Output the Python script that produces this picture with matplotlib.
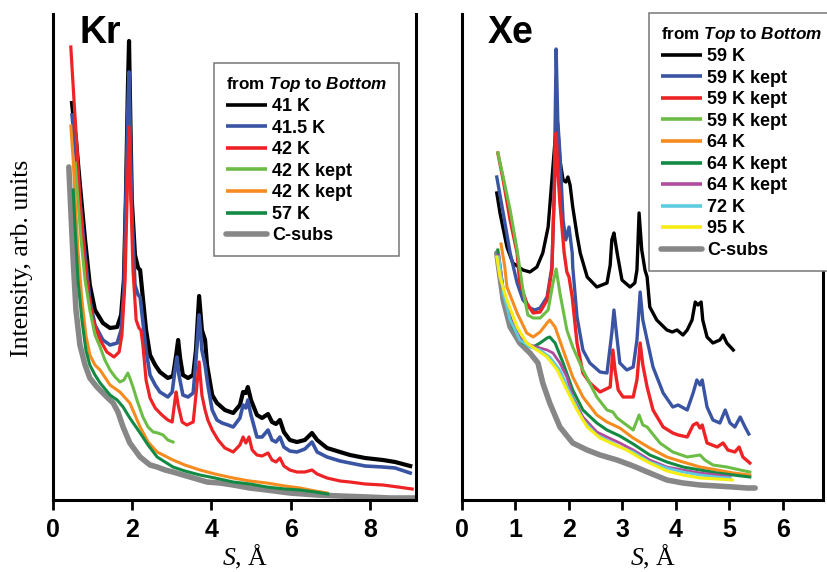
import matplotlib
matplotlib.use('Agg')
import matplotlib.pyplot as plt
from matplotlib.lines import Line2D

plt.rcParams['font.family'] = 'Liberation Sans'
plt.rcParams['font.weight'] = 'bold'
plt.rcParams['mathtext.fontset'] = 'custom'
plt.rcParams['mathtext.it'] = 'Liberation Sans:italic:bold'
plt.rcParams['mathtext.rm'] = 'Liberation Sans:bold'
plt.rcParams['mathtext.sf'] = 'Liberation Serif:italic:normal'

# ---------------- Kr panel ----------------
kr_labels = ['41 K', '41.5 K', '42 K', '42 K kept', '42 K kept', '57 K', 'C-subs']

kr_41_s = [0.48, 0.58, 0.68, 0.81, 0.93, 1.06, 1.26, 1.44, 1.62, 1.72, 1.79, 1.84, 1.89, 1.92, 1.94, 1.99,
           2.07, 2.15, 2.20, 2.25, 2.35, 2.45, 2.58, 2.70, 2.90, 3.03, 3.11, 3.16, 3.21, 3.28, 3.41, 3.54,
           3.61, 3.69, 3.76, 3.84, 3.89, 4.02, 4.14, 4.34, 4.55, 4.72, 4.80, 4.87, 4.92, 5.00, 5.15, 5.28,
           5.43, 5.53, 5.63, 5.73, 5.83, 5.98, 6.16, 6.36, 6.54, 6.67, 6.92, 7.25, 7.50, 7.88, 8.33, 8.64, 9.02]
kr_41_i = [397, 360, 315, 260, 215, 190, 177, 172, 173, 185, 220, 300, 410, 459, 410, 300,
           245, 232, 230, 210, 170, 145, 135, 128, 122, 124, 145, 160, 142, 125, 122, 125,
           150, 204, 170, 160, 135, 105, 97, 90, 87, 95, 108, 107, 113, 100, 85, 82,
           86, 78, 76, 80, 68, 60, 58, 60, 67, 60, 52, 48, 45, 42, 40, 38, 34]

kr_415_s = [0.48, 0.58, 0.68, 0.81, 0.93, 1.06, 1.26, 1.44, 1.62, 1.72, 1.79, 1.84, 1.89, 1.92, 1.94, 1.99,
            2.07, 2.15, 2.20, 2.25, 2.35, 2.45, 2.58, 2.70, 2.90, 3.01, 3.08, 3.13, 3.18, 3.28, 3.41, 3.54,
            3.61, 3.69, 3.76, 3.84, 3.91, 4.02, 4.14, 4.27, 4.42, 4.55, 4.72, 4.80, 4.87, 4.92, 5.00, 5.15,
            5.28, 5.43, 5.53, 5.63, 5.73, 5.83, 5.98, 6.16, 6.36, 6.54, 6.67, 6.92, 7.25, 7.50, 7.88, 8.33,
            8.64, 9.02]
kr_415_i = [385, 345, 300, 245, 200, 175, 160, 155, 157, 170, 210, 300, 390, 428, 390, 290,
            215, 205, 203, 185, 150, 125, 115, 108, 103, 108, 130, 143, 125, 105, 103, 107,
            140, 185, 150, 135, 115, 90, 80, 77, 75, 73, 82, 95, 92, 100, 85, 63,
            63, 70, 60, 58, 63, 53, 49, 48, 51, 58, 48, 43, 39, 37, 34, 33,
            32, 27]

kr_42_s = [0.45, 0.53, 0.61, 0.68, 0.78, 0.88, 1.01, 1.19, 1.36, 1.54, 1.67, 1.74, 1.82, 1.87, 1.92, 1.97,
           2.02, 2.10, 2.17, 2.22, 2.27, 2.35, 2.45, 2.58, 2.75, 2.90, 3.01, 3.08, 3.11, 3.16, 3.26, 3.38,
           3.54, 3.61, 3.69, 3.76, 3.84, 3.91, 4.02, 4.17, 4.34, 4.55, 4.72, 4.80, 4.87, 4.95, 5.03, 5.15,
           5.28, 5.43, 5.53, 5.63, 5.73, 5.83, 5.98, 6.16, 6.36, 6.54, 6.67, 6.92, 7.25, 7.50, 7.88, 8.33,
           8.71, 9.07]
kr_42_i = [453, 400, 350, 300, 250, 210, 180, 160, 148, 143, 148, 165, 220, 300, 373, 300,
           230, 180, 172, 170, 155, 120, 102, 92, 85, 80, 78, 100, 108, 95, 78, 75,
           78, 105, 138, 105, 90, 80, 70, 60, 52, 48, 55, 63, 57, 63, 50, 45,
           44, 47, 40, 38, 42, 34, 30, 28, 28, 30, 26, 22, 19, 18, 16, 15,
           13, 11]

kr_42k1_s = [0.56, 0.63, 0.71, 0.81, 0.93, 1.06, 1.19, 1.31, 1.44, 1.57, 1.69, 1.79, 1.89, 1.94, 2.02, 2.12,
             2.27, 2.40, 2.53, 2.65, 2.78, 2.90, 3.03]
kr_42k1_i = [337, 300, 260, 220, 190, 165, 153, 140, 130, 123, 118, 120, 127, 122, 113, 100,
             83, 73, 68, 67, 65, 60, 58]

kr_42k2_s = [0.45, 0.51, 0.56, 0.63, 0.73, 0.83, 0.93, 1.06, 1.19, 1.44, 1.69, 1.94, 2.07, 2.20, 2.40, 2.63,
             2.83, 3.03, 3.33, 3.71, 4.09, 4.55, 4.97, 5.40, 5.86, 6.24, 6.62, 6.92]
kr_42k2_i = [374, 340, 300, 250, 200, 165, 145, 135, 130, 115, 108, 97, 85, 73, 58, 48,
             44, 40, 35, 30, 26, 22, 19, 17, 14, 12, 9, 7]

kr_57_s = [0.51, 0.56, 0.63, 0.73, 0.83, 0.93, 1.06, 1.19, 1.44, 1.62, 1.77, 1.94, 2.20, 2.40, 2.63, 2.83,
           3.03, 3.33, 3.71, 4.09, 4.55, 4.97, 5.40, 5.86, 6.24, 6.62, 6.94]
kr_57_i = [310, 270, 220, 180, 150, 135, 125, 117, 105, 100, 93, 82, 67, 55, 43, 38,
           33, 29, 25, 22, 18, 16, 13, 11, 10, 8, 6]

kr_sub_s = [0.40, 0.45, 0.51, 0.58, 0.68, 0.81, 0.93, 1.11, 1.36, 1.52, 1.64, 1.77, 1.94, 2.20, 2.45, 2.63,
            2.83, 3.03, 3.46, 3.89, 4.22, 4.55, 4.97, 5.40, 5.98, 6.67, 7.25, 7.93, 8.51, 9.14]
kr_sub_i = [333, 290, 240, 190, 155, 135, 122, 113, 103, 97, 88, 73, 57, 43, 35, 33,
            30, 28, 23, 18, 17, 15, 12, 10, 7, 5, 4, 3, 2, 2]

# ---------------- Xe panel ----------------
xe_labels = ['59 K', '59 K kept', '59 K kept', '59 K kept', '64 K', '64 K kept', '64 K kept',
             '72 K', '95 K', 'C-subs']

xe_59_s = [0.65, 0.71, 0.84, 0.95, 1.14, 1.27, 1.40, 1.51, 1.61, 1.68, 1.74, 1.78, 1.83, 1.89, 1.94, 1.98,
           2.02, 2.07, 2.15, 2.21, 2.34, 2.52, 2.71, 2.77, 2.80, 2.84, 2.90, 2.99, 3.14, 3.23, 3.27, 3.31,
           3.36, 3.42, 3.46, 3.51, 3.64, 3.83, 3.93, 4.02, 4.13, 4.21, 4.30, 4.36, 4.41, 4.47, 4.50, 4.58,
           4.69, 4.82, 4.88, 4.95, 5.07]
xe_59_i = [307, 287, 253, 237, 230, 228, 233, 247, 273, 320, 360, 380, 340, 320, 318, 323,
           315, 293, 265, 247, 223, 213, 217, 235, 260, 267, 247, 220, 213, 217, 230, 287,
           250, 230, 223, 193, 180, 170, 168, 170, 165, 170, 180, 198, 195, 198, 180, 163,
           157, 160, 165, 157, 150]

xe_59k1_s = [0.65, 0.77, 0.90, 1.03, 1.14, 1.27, 1.36, 1.46, 1.59, 1.68, 1.72, 1.76, 1.79, 1.83, 1.89, 1.94,
             2.00, 2.06, 2.07, 2.15, 2.26, 2.39, 2.58, 2.71, 2.80, 2.84, 2.88, 2.95, 3.08, 3.20, 3.27, 3.33,
             3.38, 3.46, 3.57, 3.76, 3.94, 4.04, 4.21, 4.32, 4.39, 4.45, 4.49, 4.58, 4.69, 4.82, 4.92, 5.01,
             5.10, 5.20, 5.29, 5.36]
xe_59k1_i = [323, 287, 247, 217, 200, 192, 190, 192, 203, 233, 300, 451, 380, 347, 280, 260,
             273, 247, 233, 183, 150, 137, 128, 127, 167, 190, 170, 137, 130, 133, 160, 208,
             180, 160, 133, 107, 93, 95, 90, 107, 120, 115, 120, 93, 80, 77, 90, 77,
             73, 83, 73, 66]

xe_59k2_s = [0.67, 0.77, 0.90, 1.03, 1.08, 1.21, 1.33, 1.46, 1.59, 1.68, 1.72, 1.76, 1.79, 1.83, 1.91, 1.96,
             2.00, 2.06, 2.15, 2.26, 2.39, 2.58, 2.77, 2.82, 2.86, 2.92, 3.01, 3.20, 3.27, 3.33, 3.38, 3.46,
             3.57, 3.76, 3.94, 4.04, 4.21, 4.32, 4.39, 4.45, 4.49, 4.58, 4.77, 4.88, 4.97, 5.10, 5.18, 5.25,
             5.38]
xe_59k2_i = [347, 320, 280, 247, 217, 197, 187, 188, 200, 230, 300, 367, 330, 297, 247, 228,
             223, 203, 157, 127, 117, 108, 113, 150, 130, 110, 103, 103, 120, 157, 135, 113,
             90, 73, 67, 65, 63, 75, 77, 72, 75, 57, 53, 57, 50, 48, 53, 43,
             37]

xe_59k3_s = [0.67, 0.77, 0.90, 1.03, 1.14, 1.23, 1.33, 1.46, 1.61, 1.70, 1.76, 1.83, 1.96, 2.07, 2.26, 2.52,
             2.71, 2.82, 2.90, 2.95, 3.20, 3.31, 3.38, 3.46, 3.70, 3.94, 4.21, 4.45, 4.54, 4.69, 4.95, 5.20,
             5.38]
xe_59k3_i = [347, 323, 290, 250, 210, 185, 182, 182, 190, 217, 231, 207, 170, 153, 130, 103,
             90, 88, 82, 80, 70, 85, 75, 73, 57, 48, 43, 45, 40, 35, 33, 30,
             28]

xe_64_s = [0.73, 0.80, 0.84, 1.03, 1.21, 1.33, 1.46, 1.59, 1.64, 1.74, 1.89, 2.07, 2.26, 2.52, 2.71, 2.95,
           3.20, 3.51, 3.83, 4.13, 4.45, 4.77, 5.07, 5.38]
xe_64_i = [256, 233, 213, 187, 167, 163, 168, 177, 180, 173, 150, 123, 103, 85, 78, 72,
           62, 52, 43, 38, 33, 30, 27, 25]

xe_64k1_s = [0.67, 0.77, 0.95, 1.14, 1.33, 1.46, 1.59, 1.64, 1.74, 1.89, 2.07, 2.26, 2.52, 2.71, 2.95, 3.20,
             3.51, 3.83, 4.13, 4.45, 4.77, 5.07, 5.38]
xe_64k1_i = [250, 210, 173, 157, 153, 157, 162, 163, 157, 137, 110, 90, 77, 70, 64, 56,
             45, 38, 33, 30, 27, 25, 23]

xe_64k2_s = [0.69, 0.77, 0.90, 1.08, 1.27, 1.46, 1.59, 1.70, 1.83, 1.96, 2.07, 2.26, 2.52, 2.71, 2.95, 3.20,
             3.51, 3.83, 4.13, 4.45, 4.77, 5.01]
xe_64k2_i = [245, 210, 182, 162, 155, 152, 150, 147, 137, 123, 103, 83, 68, 63, 57, 50,
             40, 33, 30, 27, 25, 23]

xe_72_s = [0.69, 0.77, 0.90, 1.08, 1.27, 1.46, 1.64, 1.83, 2.02, 2.26, 2.52, 2.71, 2.95, 3.20, 3.51, 3.83,
           4.13, 4.45, 4.77, 5.01]
xe_72_i = [243, 207, 180, 160, 153, 150, 143, 130, 107, 80, 65, 60, 53, 48, 38, 32,
           28, 25, 23, 22]

xe_95_s = [0.65, 0.71, 0.84, 1.03, 1.21, 1.40, 1.59, 1.78, 1.96, 2.15, 2.34, 2.58, 2.82, 3.08, 3.33, 3.51,
           3.83, 4.13, 4.45, 4.77, 5.05]
xe_95_i = [243, 223, 200, 173, 157, 150, 143, 130, 110, 90, 73, 62, 56, 50, 42, 37,
           29, 25, 22, 21, 20]

xe_sub_s = [0.65, 0.77, 0.90, 1.08, 1.27, 1.42, 1.51, 1.64, 1.83, 2.07, 2.34, 2.58, 2.90, 3.20, 3.51, 3.83,
            4.13, 4.45, 4.77, 5.07, 5.33, 5.48]
xe_sub_i = [247, 200, 173, 157, 147, 137, 117, 97, 73, 57, 50, 45, 40, 34, 27, 20,
            17, 15, 14, 13, 12, 12]

BLACK = '#000000'
BLUE = '#3a54a4'
RED = '#ee2326'
LGREEN = '#6cbd45'
ORANGE = '#f68b1f'
DGREEN = '#138a43'
MAGENTA = '#b04b9e'
CYAN = '#5ecbe0'
YELLOW = '#f7ec13'
GRAY = '#878787'

kr_series = [
    (kr_41_s, kr_41_i, BLACK, 3.0),
    (kr_415_s, kr_415_i, BLUE, 2.6),
    (kr_42_s, kr_42_i, RED, 2.3),
    (kr_42k1_s, kr_42k1_i, LGREEN, 2.2),
    (kr_42k2_s, kr_42k2_i, ORANGE, 2.2),
    (kr_57_s, kr_57_i, DGREEN, 2.2),
    (kr_sub_s, kr_sub_i, GRAY, 4.0),
]
xe_series = [
    (xe_59_s, xe_59_i, BLACK, 2.4),
    (xe_59k1_s, xe_59k1_i, BLUE, 2.4),
    (xe_59k2_s, xe_59k2_i, RED, 2.4),
    (xe_59k3_s, xe_59k3_i, LGREEN, 2.2),
    (xe_64_s, xe_64_i, ORANGE, 2.2),
    (xe_64k1_s, xe_64k1_i, DGREEN, 2.2),
    (xe_64k2_s, xe_64k2_i, MAGENTA, 2.0),
    (xe_72_s, xe_72_i, CYAN, 2.0),
    (xe_95_s, xe_95_i, YELLOW, 2.2),
    (xe_sub_s, xe_sub_i, GRAY, 4.0),
]

W, H = 828, 572
fig = plt.figure(figsize=(W / 100, H / 100), dpi=100)
ax1 = fig.add_axes([53 / W, 72 / H, 363 / W, 486 / H])
ax2 = fig.add_axes([462 / W, 72 / H, 361 / W, 486 / H])


def draw_panel(ax, series, labels, xmax, xticks, name, name_x, legend_xy):
    handles = []
    # substrate first so it sits under the film curves
    s, i, c, lw = series[-1]
    ax.plot(s, i, color=c, lw=lw, solid_capstyle='round', zorder=2)
    for s, i, c, lw in series[:-1]:
        ax.plot(s, i, color=c, lw=lw, solid_joinstyle='round', zorder=3)
    for (s, i, c, lw), lab in zip(series, labels):
        handles.append(Line2D([], [], color=c, lw=4.0 if c == GRAY else 2.6,
                              solid_capstyle='round' if c == GRAY else 'butt', label=lab))
    ax.set_xlim(0, xmax)
    ax.set_ylim(0, 486)
    ax.set_xticks(xticks)
    ax.set_yticks([])
    ax.spines['top'].set_visible(False)
    for sp in ['left', 'right', 'bottom']:
        ax.spines[sp].set_linewidth(2.2)
    ax.tick_params(axis='x', direction='out', length=7, width=2.0, pad=6, labelsize=18)
    for t in ax.get_xticklabels():
        t.set_fontweight('bold')
    ax.text(name_x, 0.94, name, transform=ax.transAxes, fontsize=27,
            fontweight='bold', va='baseline', ha='left')
    leg = ax.legend(handles=handles, loc='upper left', bbox_to_anchor=legend_xy,
                    bbox_transform=fig.transFigure, borderaxespad=0,
                    title=r'from $\mathit{Top}$ to $\mathit{Bottom}$',
                    prop={'weight': 'bold', 'size': 13},
                    title_fontproperties={'weight': 'bold', 'size': 12.3},
                    handlelength=2.3, handletextpad=0.25, labelspacing=0.25,
                    borderpad=0.65, fancybox=False, framealpha=1,
                    edgecolor='#777777')
    leg.get_frame().set_linewidth(1.1)
    leg._legend_box.align = 'left'
    leg.set_zorder(5)
    ax.set_xlabel(r'$\mathsf{S}$, Å', fontfamily='Liberation Serif',
                  fontweight='normal', fontsize=18.5)
    ax.xaxis.set_label_coords(0.53, -0.088)


draw_panel(ax1, kr_series, kr_labels, 363 / 39.6, [0, 2, 4, 6, 8], 'Kr', 0.072,
           (214 / W, 1 - 63 / H))
draw_panel(ax2, xe_series, xe_labels, 361 / 53.5, [0, 1, 2, 3, 4, 5, 6], 'Xe', 0.07,
           (649 / W, 1 - 13 / H))

fig.text(22 / W, 1 - 258 / H, 'Intensity, arb. units', rotation=90, ha='center',
         va='center', fontfamily='Liberation Serif', fontweight='normal', fontsize=18.5)

fig.savefig('out.png', dpi=100)
